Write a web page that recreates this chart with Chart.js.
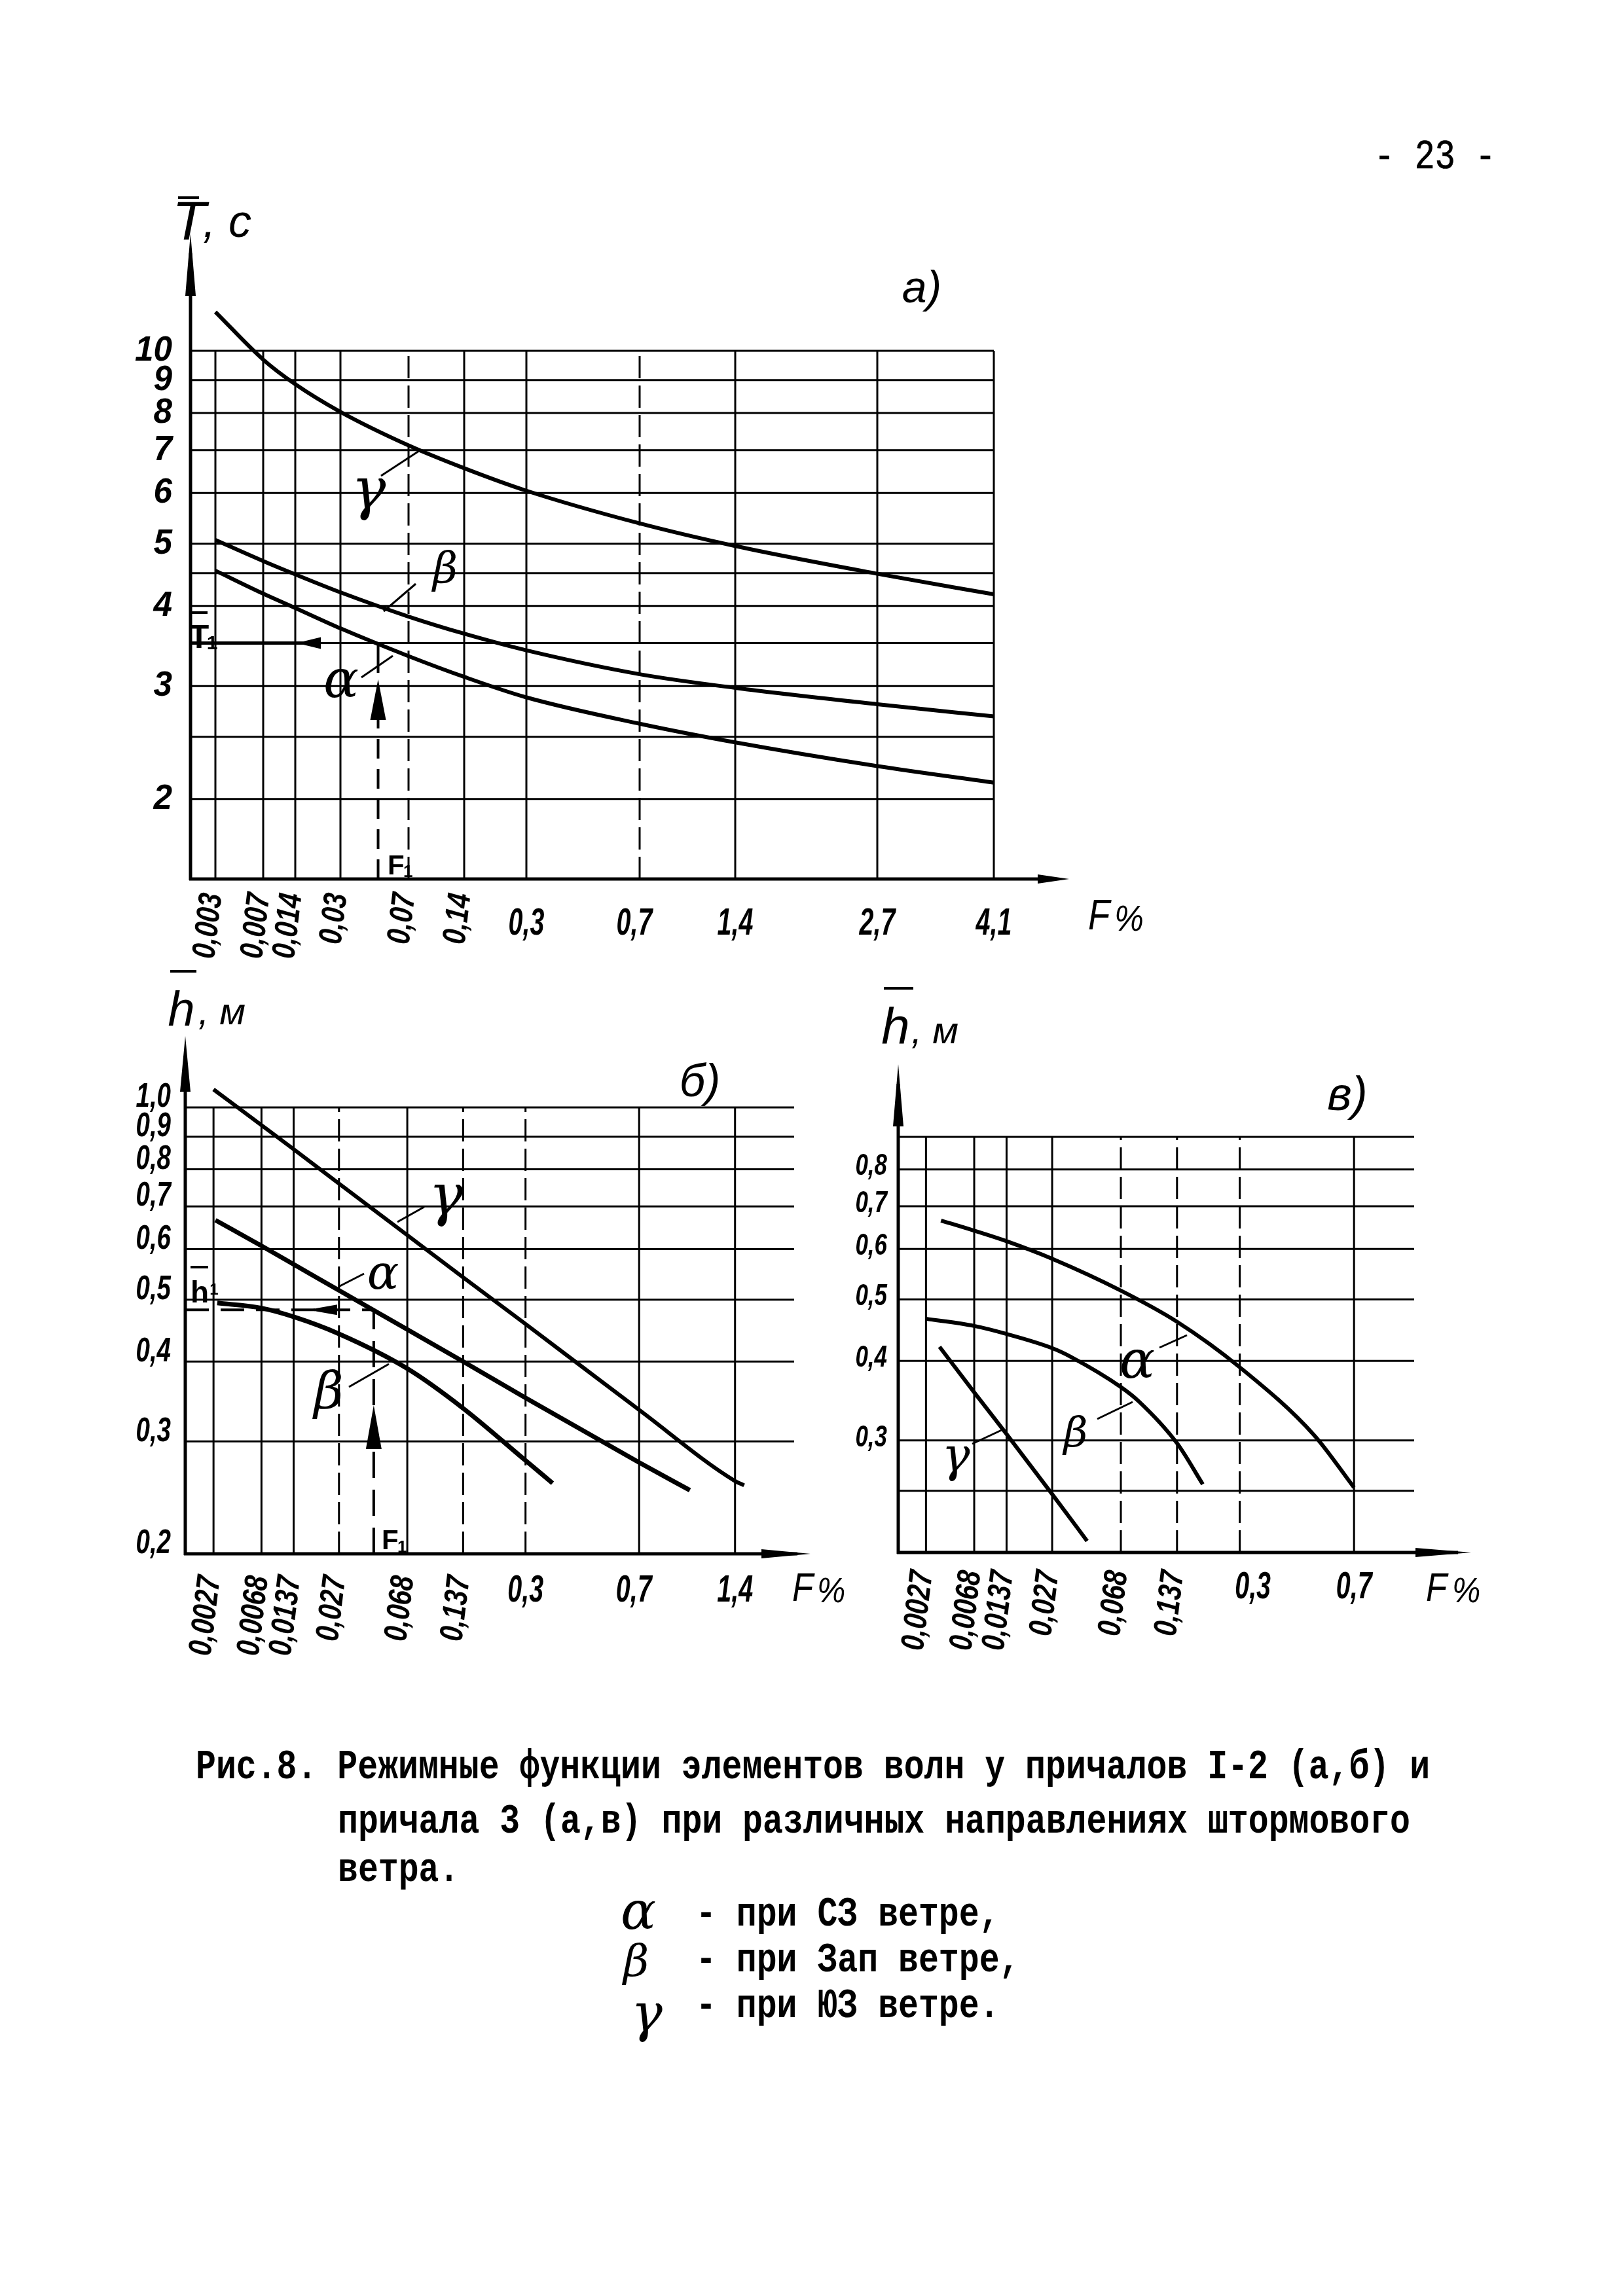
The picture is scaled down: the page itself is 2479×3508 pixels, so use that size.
<!DOCTYPE html>
<html lang="ru">
<head>
<meta charset="utf-8">
<title>Рис.8. Режимные функции элементов волн</title>
<script src="https://cdn.jsdelivr.net/npm/chart.js@4.4.1/dist/chart.umd.min.js"></script>
<style>
  html, body { margin: 0; padding: 0; background: #fff; }
  body { width: 2479px; height: 3508px; position: relative; overflow: hidden; }
  canvas { position: absolute; }
  .tw { position: absolute; font-family: "Liberation Mono", "DejaVu Sans Mono", monospace; font-size: 51.5px;
        line-height: 1; color: #000; white-space: pre; transform: scaleY(1.22); transform-origin: 0 39px;
        font-weight: bold; }
  .pg { font-weight: normal; -webkit-text-stroke: 0.6px #000; }
  .gr { position: absolute; font-family: "DejaVu Serif", serif; font-style: italic; color: #000; line-height: 1; }
</style>
</head>
<body>
<div class="tw pg" style="left:2099px; top:218px;">- 23 -</div>

<canvas id="chartA" width="1700" height="1250" style="left:150px; top:280px;"></canvas>
<canvas id="chartB" width="1200" height="1100" style="left:150px; top:1460px;"></canvas>
<canvas id="chartC" width="1100" height="1100" style="left:1250px; top:1460px;"></canvas>

<div class="tw" style="left:299px; top:2678px;">Рис.8. Режимные функции элементов волн у причалов I-2 (а,б) и</div>
<div class="tw" style="left:516px; top:2761px;">причала 3 (а,в) при различных направлениях штормового</div>
<div class="tw" style="left:516px; top:2835px;">ветра.</div>
<div class="gr" style="left:948px; top:2880px; font-size:80px;">α</div>
<div class="tw" style="left:1063px; top:2903px;">- при СЗ ветре,</div>
<div class="gr" style="left:952px; top:2962px; font-size:68px;">β</div>
<div class="tw" style="left:1063px; top:2973px;">- при Зап ветре,</div>
<div class="gr" style="left:964px; top:3036px; font-size:80px;">γ</div>
<div class="tw" style="left:1063px; top:3043px;">- при ЮЗ ветре.</div>

<script>
// шкала F% (вероятностная бумага): значения делений и их положение вдоль оси, общие для а), б), в)
const F_TICKS = [0.0027, 0.0068, 0.0137, 0.027, 0.068, 0.137, 0.3, 0.7, 1.4, 2.7, 4.1];
const F_PAPER = [0, 73, 122, 191, 295, 380, 475, 648, 794, 1011, 1189];

// а) средний период T, с
const A_X_LABELS = ["0,003", "0,007", "0,014", "0,03", "0,07", "0,14", "0,3", "0,7", "1,4", "2,7", "4,1"];
const A_Y_GRID = [2, 2.5, 3, 3.5, 4, 4.5, 5, 6, 7, 8, 9, 10];
const A_Y_TICKS = [2, 3, 4, 5, 6, 7, 8, 9, 10];
const A_F = [0.0027, 0.0068, 0.0137, 0.027, 0.068, 0.137, 0.3, 0.7, 1.4, 2.7, 4.1];
const A_ALPHA = [4.54, 4.18, 3.97, 3.69, 3.34, 3.10, 2.88, 2.62, 2.45, 2.25, 2.12];
const A_BETA = [5.07, 4.70, 4.48, 4.20, 3.85, 3.62, 3.41, 3.13, 2.98, 2.81, 2.69];
const A_GAMMA = [11.5, 9.69, 8.87, 8.03, 7.12, 6.56, 6.05, 5.38, 4.96, 4.49, 4.17];
const A_F1 = 0.045;
const A_T1 = 3.5;

// б) средняя высота h, м — причалы 1-2
const B_X_LABELS = ["0,0027", "0,0068", "0,0137", "0,027", "0,068", "0,137", "0,3", "0,7", "1,4"];
const B_Y_GRID = [0.3, 0.4, 0.5, 0.6, 0.7, 0.8, 0.9, 1.0];
const B_Y_TICKS = [0.2, 0.3, 0.4, 0.5, 0.6, 0.7, 0.8, 0.9, 1.0];
const B_ALPHA_F = [0.0028, 0.0068, 0.0137, 0.027, 0.068, 0.137, 0.3, 0.7, 1.01];
const B_ALPHA = [0.666, 0.607, 0.568, 0.517, 0.449, 0.400, 0.351, 0.278, 0.2515];
const B_BETA_F = [0.0029, 0.0068, 0.0137, 0.027, 0.068, 0.137, 0.3, 0.367];
const B_BETA = [0.494, 0.485, 0.470, 0.442, 0.390, 0.338, 0.280, 0.258];
const B_GAMMA_F = [0.0027, 0.0068, 0.0137, 0.027, 0.068, 0.137, 0.3, 0.7, 1.4, 1.46];
const B_GAMMA = [1.067, 0.938, 0.860, 0.760, 0.631, 0.542, 0.458, 0.336, 0.260, 0.256];
const B_F1 = 0.0432;
const B_H1 = 0.482;

// в) средняя высота h, м — причал 3
const C_X_LABELS = ["0,0027", "0,0068", "0,0137", "0,027", "0,068", "0,137", "0,3", "0,7"];
const C_Y_GRID = [0.25, 0.3, 0.4, 0.5, 0.6, 0.7, 0.8, 0.9];
const C_Y_TICKS = [0.3, 0.4, 0.5, 0.6, 0.7, 0.8];
const C_ALPHA_F = [0.0036, 0.0068, 0.0137, 0.027, 0.068, 0.137, 0.3, 0.52, 0.7];
const C_ALPHA = [0.665, 0.641, 0.617, 0.579, 0.516, 0.461, 0.391, 0.306, 0.253];
const C_BETA_F = [0.0027, 0.0068, 0.0137, 0.027, 0.0347, 0.068, 0.0847, 0.137, 0.189];
const C_BETA = [0.466, 0.454, 0.441, 0.419, 0.406, 0.364, 0.346, 0.297, 0.256];
const C_GAMMA_F = [0.0035, 0.0068, 0.0137, 0.027, 0.0432];
const C_GAMMA = [0.421, 0.357, 0.307, 0.247, 0.2085];

const INK = "#000";
const HAND = '"Liberation Sans", Arial, sans-serif';
const GREEK = '"DejaVu Serif", serif';

// F% -> положение на бумаге (между делениями — по логарифму)
function fPos(f) {
  let i = 0;
  while (i < F_TICKS.length - 2 && f > F_TICKS[i + 1]) i++;
  const a = Math.log(F_TICKS[i]), b = Math.log(F_TICKS[i + 1]);
  const t = (Math.log(f) - a) / (b - a);
  return F_PAPER[i] + t * (F_PAPER[i + 1] - F_PAPER[i]);
}

function seg(ctx, x1, y1, x2, y2, w, dash) {
  ctx.save();
  ctx.lineWidth = w;
  ctx.setLineDash(dash || []);
  ctx.beginPath();
  ctx.moveTo(x1, y1);
  ctx.lineTo(x2, y2);
  ctx.stroke();
  ctx.restore();
}

// наконечник стрелки: острие (tx,ty), основание (bx,by)
function head(ctx, tx, ty, bx, by, hw) {
  const dx = bx - tx, dy = by - ty, L = Math.hypot(dx, dy);
  const nx = -dy / L * hw, ny = dx / L * hw;
  ctx.beginPath();
  ctx.moveTo(tx, ty);
  ctx.lineTo(bx + nx, by + ny);
  ctx.lineTo(bx - nx, by - ny);
  ctx.closePath();
  ctx.fill();
}

function text(ctx, s, x, y, o) {
  ctx.save();
  ctx.translate(x, y);
  if (o.rot) ctx.rotate(o.rot);
  ctx.scale(o.sx || 1, 1);
  ctx.font = o.font;
  ctx.textAlign = o.align || "center";
  ctx.textBaseline = o.base || "alphabetic";
  ctx.fillText(s, 0, 0);
  ctx.restore();
}

function curve(fs, vs, w) {
  return {
    data: fs.map((f, i) => ({ x: fPos(f), y: vs[i] })),
    borderColor: INK,
    borderWidth: w || 6,
    pointRadius: 0,
    fill: false,
    cubicInterpolationMode: "monotone",
    clip: false,
  };
}

function makePaper(cfg) {
  return {
    id: "paper",
    beforeDatasetsDraw(chart) {
      const ctx = chart.ctx, a = chart.chartArea, xs = chart.scales.x, ys = chart.scales.y;
      const px = v => v - cfg.ox, py = v => v - cfg.oy;
      ctx.save();
      ctx.strokeStyle = INK;
      ctx.fillStyle = INK;

      cfg.yGrid.forEach(v => {
        const y = ys.getPixelForValue(v);
        seg(ctx, a.left, y, a.right, y, 3);
      });
      cfg.xLabels.forEach((lab, i) => {
        const x = xs.getPixelForValue(fPos(F_TICKS[i]));
        seg(ctx, x, a.bottom, x, a.top, 3, cfg.dashed.includes(i) ? [34, 11] : null);
      });

      // оси со стрелками
      seg(ctx, a.left, a.bottom + 2, a.left, py(cfg.yTip) + 30, 5);
      head(ctx, a.left, py(cfg.yTip), a.left, py(cfg.yTip) + cfg.yHead, 8);
      seg(ctx, a.left - 2, a.bottom, px(cfg.xTip) - 20, a.bottom, 5);
      head(ctx, px(cfg.xTip), a.bottom, px(cfg.xTip) - cfg.xHead, a.bottom, 7);

      // подписи делений
      cfg.yTicks.forEach((v, i) => {
        const y = ys.getPixelForValue(v) + cfg.yDy;
        text(ctx, cfg.yText[i], px(cfg.yRight), y, { font: cfg.yFont, sx: cfg.ySx, align: "right", base: "middle" });
      });
      cfg.xLabels.forEach((lab, i) => {
        const x = xs.getPixelForValue(fPos(F_TICKS[i]));
        if (i < cfg.rotCount) {
          text(ctx, lab, x - 4, a.bottom + cfg.rotGap, { font: "italic bold 50px " + HAND, sx: 0.8, rot: -Math.PI / 2 + 0.12, align: "right", base: "middle" });
        } else {
          text(ctx, lab, x + (cfg.hShift[i] || 0), py(cfg.hBase), { font: "italic bold 58px " + HAND, sx: 0.68 });
        }
      });
      ctx.restore();
    },
    afterDatasetsDraw(chart) {
      const ctx = chart.ctx, a = chart.chartArea, xs = chart.scales.x, ys = chart.scales.y;
      const px = v => v - cfg.ox, py = v => v - cfg.oy;
      ctx.save();
      ctx.strokeStyle = INK;
      ctx.fillStyle = INK;
      cfg.notes.forEach(n => text(ctx, n[0], px(n[1]), py(n[2]), { font: n[3], align: n[4] || "center", sx: n[5] || 1 }));
      cfg.leaders.forEach(l => seg(ctx, px(l[0]), py(l[1]), px(l[2]), py(l[3]), 3));
      cfg.overlines.forEach(l => seg(ctx, px(l[0]), py(l[2]), px(l[1]), py(l[2]), 4));
      if (cfg.extra) cfg.extra(ctx, xs, ys, a, px, py);
      ctx.restore();
    },
  };
}

function makeChart(id, cfg, datasets, xr, yr) {
  const canvas = document.getElementById(id);
  new Chart(canvas.getContext("2d"), {
    type: "line",
    data: { datasets: datasets },
    options: {
      responsive: false,
      animation: false,
      events: [],
      layout: { padding: cfg.pad },
      plugins: { legend: { display: false }, tooltip: { enabled: false } },
      scales: {
        x: { type: "linear", min: xr[0], max: xr[1], display: false },
        y: { type: "logarithmic", min: yr[0], max: yr[1], display: false },
      },
    },
    plugins: [makePaper(cfg)],
  });
}

const fmt = v => String(v.toFixed(1)).replace(".", ",");

// ---------- а) ----------
makeChart("chartA", {
  ox: 150, oy: 280,
  pad: { left: 141, top: 256, right: 332, bottom: 187 },
  yGrid: A_Y_GRID, yTicks: A_Y_TICKS, yText: A_Y_TICKS.map(String),
  yRight: 263, yDy: 0, yFont: "italic bold 54px " + HAND, ySx: 0.95,
  xLabels: A_X_LABELS, rotCount: 6, rotGap: 22, hBase: 1428, hShift: { 7: -8 },
  dashed: [4, 7],
  yTip: 357, yHead: 95, xTip: 1633, xHead: 48,
  notes: [
    ["T", 289, 366, "italic 84px " + HAND],
    [", с", 310, 362, "italic 70px " + HAND, "left"],
    ["а)", 1408, 462, "italic 68px " + HAND],
    ["γ", 563, 777, "italic 88px " + GREEK],
    ["β", 680, 890, "italic 66px " + GREEK],
    ["α", 521, 1065, "italic 80px " + GREEK],
    ["F", 1662, 1420, "italic 64px " + HAND, "left", 0.85],
    ["%", 1702, 1422, "italic 56px " + HAND, "left", 0.9],
    ["T", 304, 990, "bold 50px " + HAND],
    ["1", 324, 992, "bold 30px " + HAND],
    ["F", 592, 1336, "bold 42px " + HAND, "left"],
    ["1", 616, 1340, "bold 26px " + HAND, "left"],
  ],
  leaders: [[582, 727, 640, 689], [586, 934, 635, 892], [552, 1035, 600, 1002]],
  overlines: [[272, 304, 302], [291, 317, 936]],
  extra(ctx, xs, ys, a, px, py) {
    const x = xs.getPixelForValue(fPos(A_F1)), y = ys.getPixelForValue(A_T1);
    seg(ctx, x, a.bottom, x, py(1100), 4, [30, 16]);
    head(ctx, x, py(1038), x, py(1100), 12);
    seg(ctx, x, py(1028), x, y, 4);
    seg(ctx, a.left, y, px(490), y, 5);
    head(ctx, px(453), y, px(490), y, 9);
  },
}, [curve(A_F, A_ALPHA), curve(A_F, A_BETA), curve(A_F, A_GAMMA)], [-38, 1189], [1.5, 10]);

// ---------- б) ----------
makeChart("chartB", {
  ox: 150, oy: 1460,
  pad: { left: 133, top: 232, right: 137, bottom: 186 },
  yGrid: B_Y_GRID, yTicks: B_Y_TICKS, yText: B_Y_TICKS.map(fmt),
  yRight: 261, yDy: -15, yFont: "italic bold 52px " + HAND, ySx: 0.74,
  xLabels: B_X_LABELS, rotCount: 6, rotGap: 34, hBase: 2447, hShift: { 7: -8 },
  dashed: [3, 5, 6],
  yTip: 1583, yHead: 85, xTip: 1238, xHead: 75,
  notes: [
    ["h", 277, 1567, "italic 74px " + HAND],
    [", м", 303, 1565, "italic 58px " + HAND, "left"],
    ["б)", 1069, 1675, "italic 70px " + HAND],
    ["γ", 681, 1856, "italic 88px " + GREEK],
    ["α", 585, 1969, "italic 72px " + GREEK],
    ["β", 502, 2152, "italic 78px " + GREEK],
    ["F", 1210, 2446, "italic 62px " + HAND, "left", 0.85],
    ["%", 1248, 2448, "italic 54px " + HAND, "left", 0.9],
    ["h", 305, 1990, "bold 46px " + HAND],
    ["1", 327, 1978, "bold 24px " + HAND],
    ["F", 583, 2367, "bold 42px " + HAND, "left"],
    ["1", 607, 2372, "bold 26px " + HAND, "left"],
  ],
  leaders: [[607, 1867, 648, 1844], [517, 1966, 556, 1946], [533, 2119, 594, 2084]],
  overlines: [[260, 300, 1484], [291, 318, 1936]],
  extra(ctx, xs, ys, a, px, py) {
    const x = xs.getPixelForValue(fPos(B_F1)), y = ys.getPixelForValue(B_H1);
    seg(ctx, a.left, y, x, y, 4, [36, 18]);
    head(ctx, px(470), y, px(515), y, 8);
    seg(ctx, x, a.bottom, x, py(2214), 4, [40, 18]);
    head(ctx, x, py(2147), x, py(2214), 12);
    seg(ctx, x, py(2147), x, y, 4, [40, 18]);
  },
}, [curve(B_ALPHA_F, B_ALPHA, 7), curve(B_BETA_F, B_BETA, 7), curve(B_GAMMA_F, B_GAMMA, 6)], [-43, 884], [0.2, 1.0]);

// ---------- в) ----------
makeChart("chartC", {
  ox: 1250, oy: 1460,
  pad: { left: 122, top: 277, right: 190, bottom: 188 },
  yGrid: C_Y_GRID, yTicks: C_Y_TICKS, yText: C_Y_TICKS.map(fmt),
  yRight: 1355, yDy: -4, yFont: "italic bold 46px " + HAND, ySx: 0.76,
  xLabels: C_X_LABELS, rotCount: 6, rotGap: 28, hBase: 2442, hShift: { 6: 20 },
  dashed: [4, 5, 6],
  yTip: 1626, yHead: 95, xTip: 2247, xHead: 85,
  notes: [
    ["h", 1368, 1595, "italic 78px " + HAND],
    [", м", 1392, 1594, "italic 58px " + HAND, "left"],
    ["в)", 2058, 1696, "italic 72px " + HAND],
    ["α", 1737, 2105, "italic 80px " + GREEK],
    ["β", 1643, 2210, "italic 64px " + GREEK],
    ["γ", 1460, 2248, "italic 72px " + GREEK],
    ["F", 2178, 2446, "italic 62px " + HAND, "left", 0.85],
    ["%", 2218, 2448, "italic 54px " + HAND, "left", 0.9],
  ],
  leaders: [[1771, 2059, 1813, 2040], [1676, 2168, 1730, 2142], [1485, 2206, 1532, 2184]],
  overlines: [[1350, 1395, 1510]],
}, [curve(C_ALPHA_F, C_ALPHA), curve(C_BETA_F, C_BETA), curve(C_GAMMA_F, C_GAMMA)], [-42, 739], [0.2, 0.9]);
</script>
</body>
</html>
